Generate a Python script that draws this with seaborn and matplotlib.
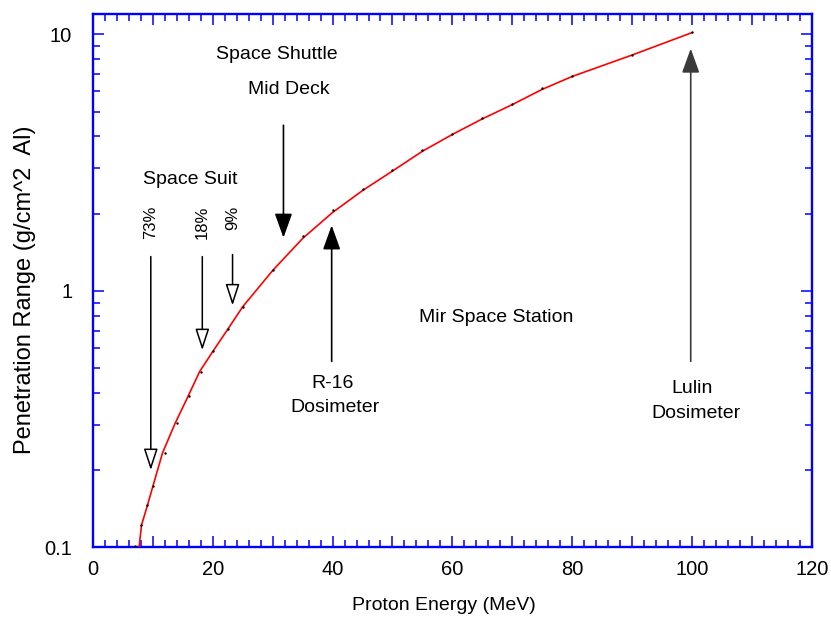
import matplotlib
matplotlib.use("Agg")
import matplotlib.pyplot as plt
import numpy as np
import pandas as pd
import seaborn as sns
from matplotlib.ticker import MultipleLocator, FixedLocator, LogLocator, NullFormatter, FuncFormatter

# ---- data ----
energy_pts = [7, 8, 9, 10, 12, 14, 16, 18, 20, 22.5, 25, 30, 35, 40, 45, 50,
              55, 60, 65, 70, 75, 80, 90, 100]
range_pts = [0.101, 0.122, 0.146, 0.173, 0.233, 0.304, 0.389, 0.484, 0.58, 0.708,
             0.867, 1.21, 1.64, 2.06, 2.49, 2.95, 3.53, 4.1, 4.7, 5.34, 6.15,
             6.87, 8.34, 10.2]

fit_energy = [7.7, 8.1, 9.1, 10.0, 11.6, 13.7, 15.9, 17.8, 20, 22.5, 25, 30, 35,
              40, 45, 50, 55, 60, 65, 70, 75, 80, 90, 100]
fit_range = [0.100, 0.122, 0.146, 0.173, 0.233, 0.304, 0.389, 0.484, 0.58, 0.708,
             0.867, 1.2, 1.6, 2.02, 2.46, 2.93, 3.5, 4.07, 4.68, 5.32, 6.1,
             6.85, 8.3, 10.15]

y_ticks = [0.1, 1, 10]
y_tick_labels = ["0.1", "1", "10"]

suit_labels = ["73%", "18%", "9%"]
suit_x = [9.65, 18.25, 23.3]
suit_tip = [0.20, 0.587, 0.877]
suit_start = [1.36, 1.36, 1.385]

sns.set_theme(style="white")
plt.rcParams["font.family"] = ["Liberation Sans", "DejaVu Sans"]
plt.rcParams["text.color"] = "black"
plt.rcParams["axes.labelcolor"] = "black"

fig = plt.figure(figsize=(8.31, 6.22), dpi=100)
ax = fig.add_axes([93 / 831, 1 - 547.3 / 622, (811.7 - 93) / 831, (547.3 - 14) / 622])

fit_df = pd.DataFrame({"energy": fit_energy, "range": fit_range})
pts_df = pd.DataFrame({"energy": energy_pts, "range": range_pts})

sns.lineplot(data=fit_df, x="energy", y="range", ax=ax, color="#ff0000",
             linewidth=1.2, zorder=3)
sns.scatterplot(data=pts_df, x="energy", y="range", ax=ax, color="black",
                s=3, linewidth=0, zorder=4)

ax.set_yscale("log")
ax.set_xlim(0, 120)
ax.set_ylim(0.1, 12)

ax.xaxis.set_major_locator(MultipleLocator(10))
ax.xaxis.set_minor_locator(MultipleLocator(2))
ax.xaxis.set_major_formatter(FuncFormatter(
    lambda v, p: f"{int(round(v))}" if int(round(v)) % 20 == 0 else ""))
ax.yaxis.set_major_locator(FixedLocator(y_ticks))
ax.yaxis.set_major_formatter(FuncFormatter(
    lambda v, p: dict(zip(y_ticks, y_tick_labels)).get(min(y_ticks, key=lambda t: abs(t - v)), "")))
ax.yaxis.set_minor_locator(LogLocator(base=10, subs=range(2, 10)))
ax.yaxis.set_minor_formatter(NullFormatter())

for s in ax.spines.values():
    s.set_color("#0000ff")
    s.set_linewidth(1.7)

ax.tick_params(which="both", direction="in", top=True, right=True, bottom=True,
               left=True, color="#0000ff", width=1.1, labelcolor="black",
               labelsize=14.5)
ax.tick_params(which="major", length=8.2)
ax.tick_params(which="minor", length=4.8)
ax.tick_params(axis="x", which="major", pad=9.5)
ax.tick_params(axis="y", which="major", pad=15)

ax.set_xlabel("Proton Energy (MeV)", fontsize=14, color="black")
ax.set_ylabel("Penetration Range (g/cm^2  Al)", fontsize=17, color="black")
ax.xaxis.set_label_coords(0.488, -0.093)
ax.yaxis.set_label_coords(-0.08, 0.483)
ax.grid(False)

# ---- annotations ----
fs = 14
ax.text(30.7, 8.34, "Space Shuttle", ha="center", va="center", fontsize=fs)
ax.text(32.7, 6.11, "Mid Deck", ha="center", va="center", fontsize=fs)
ax.text(16.3, 2.72, "Space Suit", ha="center", va="center", fontsize=fs)
ax.text(67.4, 0.787, "Mir Space Station", ha="center", va="center", fontsize=fs)
ax.text(40.0, 0.435, "R-16", ha="center", va="center", fontsize=fs)
ax.text(40.4, 0.351, "Dosimeter", ha="center", va="center", fontsize=fs)
ax.text(100.1, 0.416, "Lulin", ha="center", va="center", fontsize=fs)
ax.text(100.6, 0.332, "Dosimeter", ha="center", va="center", fontsize=fs)

for lab, x, tip, start in zip(suit_labels, suit_x, suit_tip, suit_start):
    ax.text(x, 2.15, lab, rotation=90, ha="center", va="top", fontsize=12)
    ax.annotate("", xy=(x, tip), xytext=(x, start),
                arrowprops=dict(arrowstyle="-|>,head_length=1.1,head_width=0.36",
                                fc="white", ec="black", lw=1.1,
                                shrinkA=0, shrinkB=0), zorder=5)

filled = dict(arrowstyle="-|>,head_length=1.25,head_width=0.45",
              fc="black", ec="black", lw=1.2, shrinkA=0, shrinkB=0)
ax.annotate("", xy=(31.8, 1.61), xytext=(31.8, 4.42), arrowprops=filled, zorder=5)
ax.annotate("", xy=(39.85, 1.80), xytext=(39.85, 0.531), arrowprops=filled, zorder=5)
lulin = dict(filled)
lulin.update(fc="#3a3a3a", ec="#3a3a3a")
ax.annotate("", xy=(99.8, 8.8), xytext=(99.8, 0.531), arrowprops=lulin, zorder=5)

fig.savefig("out.png", dpi=100)
